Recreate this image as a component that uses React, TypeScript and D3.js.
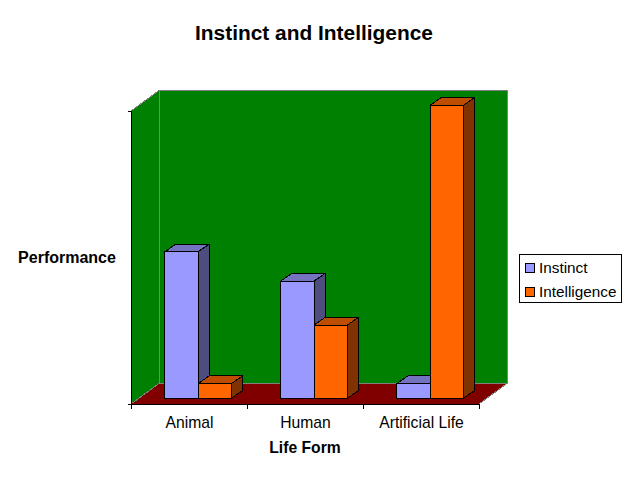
import React from "react";
import * as d3 from "d3";

const categories = ["Animal", "Human", "Artificial Life"];
const seriesNames = ["Instinct", "Intelligence"];
const instinct = [50, 40, 5];
const intelligence = [5, 25, 100];
const faceColors = [
  { front: "#9999ff", top: "#7373bf", side: "#4d4d80" },
  { front: "#ff6600", top: "#bf4d00", side: "#803300" },
];

const FONT = "'Liberation Sans', Arial, sans-serif";
const left = 131, right = 479, bottom = 404, top = 111;
const wallDx = 28, wallDy = -20.5;
const barDx = 9.1, barDy = -5.7;
const depthDx = 11, depthDy = -7.7;

const x0 = d3.scaleBand<string>().domain(categories).range([left, right]);
const x1 = d3.scaleBand<string>().domain(seriesNames).range([-33.3, 33.3]);
const y = d3.scaleLinear().domain([0, 100]).range([bottom, top]);
const poly = d3.line<[number, number]>().x((d) => d[0]).y((d) => d[1]);
const closed = (pts: [number, number][]) => poly(pts) + "Z";

function Bar({ cat, s, v, i }: { cat: string; s: string; v: number; i: number }) {
  const cx = x0(cat)! + x0.bandwidth() / 2 + barDx;
  const xa = cx + x1(s)!;
  const xb = xa + x1.bandwidth();
  const yb = y(0) + barDy;
  const yt = y(v) + barDy;
  const c = faceColors[i];
  return (
    <g stroke="#000" strokeWidth={1} strokeLinejoin="round" shapeRendering="crispEdges">
      <path d={closed([[xa, yt], [xa + depthDx, yt + depthDy], [xb + depthDx, yt + depthDy], [xb, yt]])} fill={c.top} />
      <path d={closed([[xb, yt], [xb + depthDx, yt + depthDy], [xb + depthDx, yb + depthDy], [xb, yb]])} fill={c.side} />
      <rect x={xa} y={yt} width={xb - xa} height={yb - yt} fill={c.front} />
    </g>
  );
}

export default function App() {
  const ticksX = [left, ...categories.map((c) => x0(c)! + x0.bandwidth())];
  const bars: React.ReactNode[] = [];
  categories.forEach((cat, k) => {
    bars.push(<Bar key={cat + "a"} cat={cat} s={seriesNames[0]} v={instinct[k]} i={0} />);
    bars.push(<Bar key={cat + "b"} cat={cat} s={seriesNames[1]} v={intelligence[k]} i={1} />);
  });
  return (
    <svg width={630} height={499} style={{ position: "absolute", left: 0, top: 0, background: "#fff" }} fontFamily={FONT}>
      <text x={314} y={39.5} textAnchor="middle" fontSize={20.9} fontWeight="bold">Instinct and Intelligence</text>

      <g shapeRendering="crispEdges">
        <path d={closed([[left, top], [left + wallDx, top + wallDy], [left + wallDx, bottom + wallDy], [left, bottom]])} fill="#008000" />
        <rect x={left + wallDx} y={top + wallDy} width={right - left} height={bottom - top} fill="#008000" />
        <path d={closed([[left, bottom], [left + wallDx, bottom + wallDy], [right + wallDx, bottom + wallDy], [right, bottom]])} fill="#800000" />
        <g fill="none" stroke="#808080" strokeWidth={1}>
          <path d={closed([[left + wallDx, top + wallDy], [right + wallDx, top + wallDy], [right + wallDx, bottom + wallDy], [left + wallDx, bottom + wallDy]])} />
          <path d={poly([[left, top], [left + wallDx, top + wallDy]])!} />
          <path d={poly([[left, bottom], [left + wallDx, bottom + wallDy]])!} />
          <path d={poly([[right, bottom], [right + wallDx, bottom + wallDy]])!} />
        </g>
      </g>

      <g stroke="#000" strokeWidth={1} shapeRendering="crispEdges" transform="translate(0.5,0.5)">
        <line x1={left} x2={left} y1={top} y2={bottom} />
        <line x1={left} x2={right} y1={bottom} y2={bottom} />
        {y.domain().map((d) => <line key={d} x1={left - 4} x2={left} y1={y(d)} y2={y(d)} />)}
        {ticksX.map((t) => <line key={t} x1={t} x2={t} y1={bottom} y2={bottom + 4} />)}
      </g>

      {bars}

      <g fontSize={15.7} textAnchor="middle">
        {categories.map((c) => (
          <text key={c} x={x0(c)! + x0.bandwidth() / 2 + 0.5} y={428}>{c}</text>
        ))}
      </g>
      <text x={305} y={453} textAnchor="middle" fontSize={15.7} fontWeight="bold">Life Form</text>
      <text x={67} y={263} textAnchor="middle" fontSize={16} fontWeight="bold">Performance</text>

      <rect x={519.5} y={254.5} width={102} height={48} fill="#fff" stroke="#000" shapeRendering="crispEdges" />
      {seriesNames.map((s, i) => (
        <g key={s}>
          <rect x={525.5} y={263.5 + i * 24} width={9} height={9} fill={faceColors[i].front} stroke="#000" shapeRendering="crispEdges" />
          <text x={539} y={273 + i * 24} fontSize={15.3}>{s}</text>
        </g>
      ))}
    </svg>
  );
}
